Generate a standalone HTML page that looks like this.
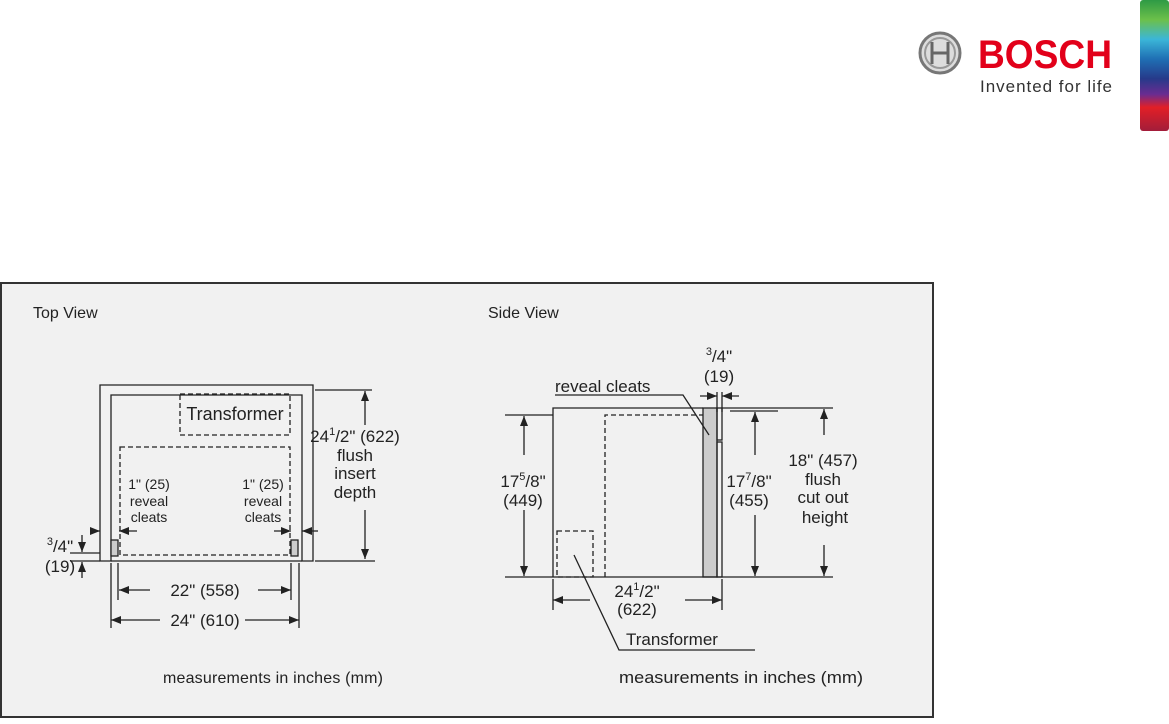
<!DOCTYPE html>
<html><head><meta charset="utf-8"><style>
body{margin:0;background:#fff;width:1169px;height:719px;overflow:hidden;font-family:"Liberation Sans",sans-serif}
</style></head><body>
<svg width="1169" height="719" viewBox="0 0 1169 719" xmlns="http://www.w3.org/2000/svg" font-family="Liberation Sans, sans-serif">
<defs>
<linearGradient id="g" x1="0" y1="0" x2="0" y2="1">
<stop offset="0" stop-color="#2e9a45"/><stop offset="0.15" stop-color="#6cc04a"/><stop offset="0.3" stop-color="#3bb6d8"/><stop offset="0.45" stop-color="#1f6fb4"/><stop offset="0.6" stop-color="#263a8a"/><stop offset="0.72" stop-color="#6a2c91"/><stop offset="0.82" stop-color="#e21f26"/><stop offset="1" stop-color="#a21d3a"/>
</linearGradient>
<marker id="a" markerWidth="10" markerHeight="8" refX="10" refY="4" orient="auto" markerUnits="userSpaceOnUse"><path d="M0,0 L10,4 L0,8z" fill="#222"/></marker>
</defs>
<rect x="1140" y="0" width="29" height="131" rx="3" fill="url(#g)"/>
<circle cx="940" cy="53" r="20" fill="#ddd" stroke="#777" stroke-width="3"/>
<circle cx="940" cy="53" r="15" fill="none" stroke="#999" stroke-width="2"/>
<path d="M932 42v22M948 42v22M932 53h16" stroke="#666" stroke-width="3" fill="none"/>
<text x="978" y="68" font-size="40" font-weight="bold" fill="#e2001a" textLength="134" lengthAdjust="spacingAndGlyphs">BOSCH</text>
<text x="980" y="92" font-size="17" fill="#333" textLength="132">Invented for life</text>

<rect x="1" y="283" width="932" height="434" fill="#f1f1f1" stroke="#333" stroke-width="2"/>
<g font-size="16" fill="#222">
<text x="33" y="318">Top View</text><text x="488" y="318">Side View</text>
<text x="163" y="683" textLength="220">measurements in inches (mm)</text><text x="619" y="683" textLength="244" lengthAdjust="spacingAndGlyphs" font-size="17">measurements in inches (mm)</text>
</g>
<g stroke="#222" stroke-width="1.3" fill="none">
<path d="M100 561V385H313V561H302V395H111V561Z"/>
<path d="M111 561H302"/>
<rect x="180" y="394" width="110" height="41" stroke-dasharray="5,3"/>
<rect x="120" y="447" width="170" height="108" stroke-dasharray="5,3"/>
<rect x="111" y="540" width="7" height="16" fill="#ccc"/>
<rect x="291" y="540" width="7" height="16" fill="#ccc"/>
<path d="M315 390H372M315 561H375"/>
<path d="M365 425V391" marker-end="url(#a)"/><path d="M365 510V559" marker-end="url(#a)"/>
<path d="M92 531H100" marker-end="url(#a)"/><path d="M137 531H119" marker-end="url(#a)"/>
<path d="M274 531H291" marker-end="url(#a)"/><path d="M318 531H302" marker-end="url(#a)"/>
<path d="M70 553H100M70 561H100"/>
<path d="M82 535V552" marker-end="url(#a)"/><path d="M82 578V562" marker-end="url(#a)"/>
<path d="M118 563V600M291 563V600M111 563V628M299 563V628"/>
<path d="M150 590H119" marker-end="url(#a)"/><path d="M258 590H291" marker-end="url(#a)"/>
<path d="M160 620H111" marker-end="url(#a)"/><path d="M245 620H299" marker-end="url(#a)"/>
<path d="M553 577V408H703"/>
<rect x="703" y="408" width="14" height="169" fill="#ccc"/>
<rect x="717" y="408" width="5" height="32"/><rect x="717" y="442" width="5" height="135"/>
<path d="M553 577H722"/>
<path d="M605 577V415H703" stroke-dasharray="5,3"/>
<rect x="557" y="531" width="36" height="46" stroke-dasharray="5,3"/>
<path d="M505 415H553M505 577H553"/>
<path d="M524 455V416" marker-end="url(#a)"/><path d="M524 510V576" marker-end="url(#a)"/>
<path d="M722 408H833M730 411H778M722 577H833"/>
<path d="M755 455V412" marker-end="url(#a)"/><path d="M755 515V576" marker-end="url(#a)"/>
<path d="M824 435V409" marker-end="url(#a)"/><path d="M824 545V576" marker-end="url(#a)"/>
<path d="M717 392V412M722 392V412"/>
<path d="M700 396H717" marker-end="url(#a)"/><path d="M739 396H722" marker-end="url(#a)"/>
<path d="M553 579V610M722 579V610"/>
<path d="M590 600H553" marker-end="url(#a)"/><path d="M685 600H722" marker-end="url(#a)"/>
<path d="M555 395H683L709 435"/>
<path d="M574 555L619 650H755"/>
</g>
<g font-size="18" fill="#222" text-anchor="middle">
<text x="235" y="420">Transformer</text>
</g>
<g font-size="17" fill="#222" text-anchor="middle">
<text x="355" y="442">24<tspan font-size="11" dy="-7">1</tspan><tspan dy="7">/2" (622)</tspan></text>
<text x="355" y="461">flush</text><text x="355" y="479">insert</text><text x="355" y="498">depth</text>
</g>
<g font-size="14" fill="#222" text-anchor="middle">
<text x="149" y="489">1" (25)</text><text x="149" y="506">reveal</text><text x="149" y="522">cleats</text>
<text x="263" y="489">1" (25)</text><text x="263" y="506">reveal</text><text x="263" y="522">cleats</text>
</g>
<g font-size="17" fill="#222" text-anchor="middle">
<text x="60" y="552"><tspan font-size="11" dy="-7">3</tspan><tspan dy="7">/4"</tspan></text>
<text x="60" y="572">(19)</text>
<text x="205" y="596">22" (558)</text>
<text x="205" y="626">24" (610)</text>
<text x="719" y="362"><tspan font-size="11" dy="-7">3</tspan><tspan dy="7">/4"</tspan></text>
<text x="719" y="382">(19)</text>
<text x="523" y="487">17<tspan font-size="11" dy="-7">5</tspan><tspan dy="7">/8"</tspan></text>
<text x="523" y="506">(449)</text>
<text x="749" y="487">17<tspan font-size="11" dy="-7">7</tspan><tspan dy="7">/8"</tspan></text>
<text x="749" y="506">(455)</text>
<text x="823" y="466">18" (457)</text><text x="823" y="485">flush</text>
<text x="823" y="503">cut out</text><text x="825" y="523">height</text>
<text x="637" y="597">24<tspan font-size="11" dy="-7">1</tspan><tspan dy="7">/2"</tspan></text>
<text x="637" y="615">(622)</text>
<text x="672" y="645">Transformer</text>
</g>
<text x="555" y="392" font-size="17" fill="#222">reveal cleats</text>
</svg>
</body></html>
